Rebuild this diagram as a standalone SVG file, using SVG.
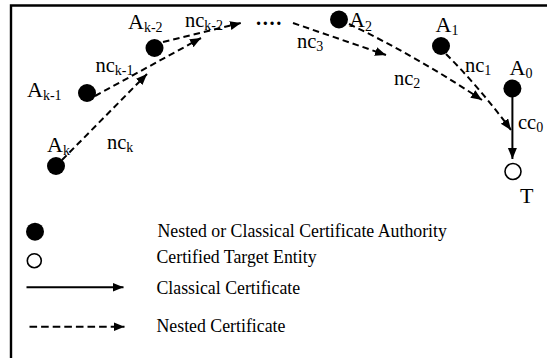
<svg xmlns="http://www.w3.org/2000/svg" width="547" height="358" viewBox="0 0 547 358">
<style>
text{font-family:"Liberation Serif","Times New Roman",serif;fill:#000}
.cap{font-size:22px}
.lc{font-size:20.5px}
.sub{font-size:14px}
.leg{font-size:17.8px}
.node{fill:#000}
.open{fill:#fff;stroke:#000;stroke-width:1.6}
.dash{fill:none;stroke:#000;stroke-width:2;stroke-dasharray:6.5,4}
.solid{fill:none;stroke:#000;stroke-width:2}
</style>
<defs>
<marker id="ah" markerUnits="userSpaceOnUse" markerWidth="13" markerHeight="10" refX="11" refY="4.5" orient="auto">
<path d="M0,0 L11,4.5 L0,9 z" fill="#000"/>
</marker>
</defs>
<path d="M11,358 V5.5 H547" fill="none" stroke="#000" stroke-width="2.4"/>
<g id="connectors">
<path class="dash" d="M62,160 L147,74" marker-end="url(#ah)"/>
<path class="dash" d="M95,96 L201,38" marker-end="url(#ah)"/>
<path class="dash" d="M163,42 L241,23" marker-end="url(#ah)"/>
<path class="dash" d="M293,23 L386,55" marker-end="url(#ah)"/>
<path class="dash" d="M349,24 Q416,56 482,100" marker-end="url(#ah)"/>
<path class="dash" d="M446,54 Q480,88 511,130" marker-end="url(#ah)"/>
<path class="solid" d="M512.4,97 L512.4,159" marker-end="url(#ah)"/>
</g>
<g id="Ak"><circle class="node" cx="56" cy="166" r="9"/><text class="cap" x="47" y="151.5">A<tspan class="sub" dy="3">k</tspan></text></g>
<g id="Ak-1"><circle class="node" cx="87" cy="93" r="9"/><text class="cap" x="27" y="96.5">A<tspan class="sub" dy="3">k-1</tspan></text></g>
<g id="Ak-2"><circle class="node" cx="154.5" cy="48" r="9"/><text class="cap" x="128" y="29">A<tspan class="sub" dy="3">k-2</tspan></text></g>
<g id="dots"><text class="lc" x="256" y="25" font-weight="bold" letter-spacing="1.6">....</text></g>
<g id="A2"><circle class="node" cx="339" cy="19.5" r="9"/><text class="cap" x="349" y="26.5">A<tspan class="sub" dy="4">2</tspan></text></g>
<g id="A1"><circle class="node" cx="441" cy="46" r="9"/><text class="cap" x="435.5" y="31.5">A<tspan class="sub" dy="3">1</tspan></text></g>
<g id="A0"><circle class="node" cx="512.4" cy="88.5" r="9"/><text class="cap" x="509.5" y="75">A<tspan class="sub" dy="3">0</tspan></text></g>
<g id="T"><circle class="open" cx="513" cy="171.5" r="8"/><text class="cap" x="520" y="203">T</text></g>
<g id="labels">
<text class="lc" x="107" y="148.5">nc<tspan class="sub" dy="3">k</tspan></text>
<text class="lc" x="95.5" y="71.5">nc<tspan class="sub" dy="3">k-1</tspan></text>
<text class="lc" x="185" y="26.5">nc<tspan class="sub" dy="3">k-2</tspan></text>
<text class="lc" x="297" y="48">nc<tspan class="sub" dy="3">3</tspan></text>
<text class="lc" x="394" y="85">nc<tspan class="sub" dy="3">2</tspan></text>
<text class="lc" x="465" y="71.5">nc<tspan class="sub" dy="3">1</tspan></text>
<text class="lc" x="518" y="129">cc<tspan class="sub" dy="3">0</tspan></text>
</g>
<g id="legend">
<circle class="node" cx="35" cy="231.7" r="9"/>
<text class="leg" x="157.5" y="236.7">Nested or Classical Certificate Authority</text>
<circle class="open" cx="34.3" cy="260.7" r="7"/>
<text class="leg" x="156.5" y="262.7">Certified Target Entity</text>
<path class="solid" d="M26.5,287.3 L123.5,287.3" marker-end="url(#ah)"/>
<text class="leg" x="156.5" y="294">Classical Certificate</text>
<path class="solid" d="M29.5,326.7 L124.5,326.7" stroke-dasharray="7.6,4" marker-end="url(#ah)"/>
<text class="leg" x="156.5" y="331.7">Nested Certificate</text>
</g>
</svg>
